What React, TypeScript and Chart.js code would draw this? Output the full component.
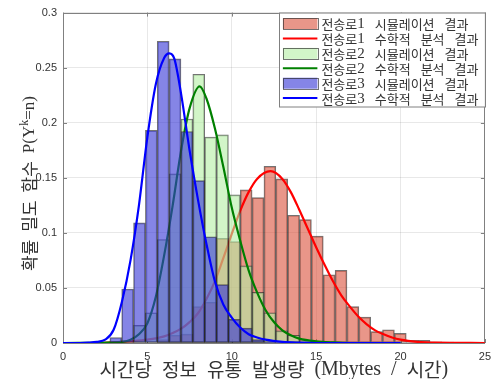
import React, { useEffect, useRef } from 'react';
import { Chart, registerables } from 'chart.js';

Chart.register(...registerables);

// ---------------- data ----------------
const binStart = 2.775;
const binWidth = 0.7026;

const route1Hist = [0, 0, 0, 0, 0.003, 0.007, 0.008, 0.033, 0.037, 0.095, 0.092, 0.139, 0.132, 0.1605, 0.149, 0.116, 0.112, 0.097, 0.062, 0.066, 0.033, 0.0235, 0.0103, 0.012, 0.0088, 0.0025, 0.0025, 0.001, 0.0008, 0];
const route2Hist = [0, 0.001, 0.016, 0.0275, 0.094, 0.1535, 0.2034, 0.244, 0.187, 0.189, 0.1345, 0.07, 0.046, 0.0275, 0.011, 0.007, 0.002, 0.001, 0, 0, 0, 0, 0, 0, 0, 0, 0, 0, 0, 0];
const route3Hist = [0.005, 0.049, 0.109, 0.193, 0.274, 0.258, 0.192, 0.1475, 0.0965, 0.053, 0.0215, 0.0135, 0.003, 0.001, 0, 0, 0, 0, 0, 0, 0, 0, 0, 0, 0, 0, 0, 0, 0, 0];

const route1CurveX = [0, 2, 3, 4, 5, 6, 6.5, 7, 7.5, 8, 8.5, 9, 9.5, 10, 10.5, 11, 11.5, 12.3, 13, 13.5, 14, 14.5, 15, 15.5, 16, 16.5, 17, 17.5, 18, 18.5, 19, 19.5, 20, 21, 22, 25];
const route1CurveY = [0, 0, 0.0005, 0.0015, 0.003, 0.006, 0.009, 0.013, 0.019, 0.027, 0.04, 0.056, 0.077, 0.099, 0.12, 0.137, 0.149, 0.156, 0.149, 0.137, 0.121, 0.104, 0.087, 0.071, 0.056, 0.043, 0.033, 0.024, 0.017, 0.0115, 0.008, 0.005, 0.003, 0.001, 0.0003, 0];

const route2CurveX = [0, 3, 3.5, 4, 4.5, 5, 5.5, 6, 6.5, 7, 7.5, 8.1, 8.5, 9, 9.5, 10, 10.5, 11, 11.5, 12, 12.5, 13, 13.5, 14, 15, 16, 17, 20];
const route2CurveY = [0, 0.0005, 0.001, 0.003, 0.008, 0.018, 0.042, 0.08, 0.125, 0.175, 0.213, 0.233, 0.222, 0.195, 0.16, 0.123, 0.093, 0.066, 0.046, 0.03, 0.019, 0.0115, 0.007, 0.004, 0.0015, 0.0005, 0, 0];

const route3CurveX = [0, 1, 1.5, 2, 2.5, 3, 3.5, 4, 4.5, 5, 5.5, 6, 6.3, 6.6, 7, 7.5, 8, 8.5, 9, 9.5, 10, 10.5, 11, 11.5, 12, 13, 14, 15, 20];
const route3CurveY = [0, 0, 0.0003, 0.001, 0.003, 0.012, 0.038, 0.075, 0.125, 0.187, 0.235, 0.259, 0.263, 0.258, 0.226, 0.175, 0.13, 0.09, 0.056, 0.035, 0.023, 0.014, 0.008, 0.005, 0.003, 0.001, 0.0003, 0, 0];

const legendLabels = [
  '전송로1 시뮬레이션 결과',
  '전송로1 수학적 분석 결과',
  '전송로2 시뮬레이션 결과',
  '전송로2 수학적 분석 결과',
  '전송로3 시뮬레이션 결과',
  '전송로3 수학적 분석 결과',
];

const xTicks = [0, 5, 10, 15, 20, 25];
const xTickLabels = ['0', '5', '10', '15', '20', '25'];
const yTicks = [0, 0.05, 0.1, 0.15, 0.2, 0.25, 0.3];
const yTickLabels = ['0', '0.05', '0.1', '0.15', '0.2', '0.25', '0.3'];

const xTitle = '시간당 정보 유통 발생량 (Mbytes / 시간)';
const yTitleMain = '확률 밀도 함수 P(Y';
const yTitleSup = 'k';
const yTitleEnd = '=n)';

// ---------------- styles ----------------
const histFills = ['rgba(218,80,58,0.6)', 'rgba(180,238,163,0.6)', 'rgba(52,52,213,0.6)'];
const histEdge = 'rgba(40,40,40,0.65)';
const lineColors = ['#ff0000', '#008000', '#0000ff'];
const axisColor = '#808080';
const textColor = '#333333';
const CJK = '"Noto Sans CJK KR", sans-serif';
const SERIF = '"Liberation Serif", serif';

type Spec = { hangul: string; latin: string; space: number; dy?: number };
const xTitleSpec: Spec = { hangul: `19px ${CJK}`, latin: `20px ${SERIF}`, space: 10 };
const yTitleSpec: Spec = { hangul: `17px ${CJK}`, latin: `17px ${SERIF}`, space: 8 };
const ySupSpec: Spec = { hangul: `12px ${CJK}`, latin: `12px ${SERIF}`, space: 4, dy: -5 };
const legendSpec: Spec = { hangul: `13px ${CJK}`, latin: `15px ${SERIF}`, space: 10 };

function histData(values: number[]) {
  return values.map((v, i) => ({ x: binStart + binWidth * (i + 0.5), y: v > 0 ? v : null }));
}
function curveData(xs: number[], ys: number[]) {
  return xs.map((x, i) => ({ x, y: ys[i] }));
}

const isHangul = (ch: string) => /[\u1100-\u11FF\u3130-\u318F\uAC00-\uD7AF]/.test(ch);

type Item = { ch: string; font: string; w: number; dy: number };
function layoutRich(ctx: CanvasRenderingContext2D, parts: { text: string; spec: Spec }[]): Item[] {
  const items: Item[] = [];
  for (const p of parts) {
    for (const ch of p.text) {
      if (ch === ' ') {
        items.push({ ch, font: p.spec.latin, w: p.spec.space, dy: 0 });
        continue;
      }
      const font = isHangul(ch) ? p.spec.hangul : p.spec.latin;
      ctx.font = font;
      items.push({ ch, font, w: ctx.measureText(ch).width, dy: p.spec.dy || 0 });
    }
  }
  return items;
}
function drawRich(ctx: CanvasRenderingContext2D, parts: { text: string; spec: Spec }[], x: number, y: number, align: 'left' | 'center') {
  const items = layoutRich(ctx, parts);
  const total = items.reduce((s, it) => s + it.w, 0);
  let cx = align === 'center' ? x - total / 2 : x;
  ctx.textAlign = 'left';
  ctx.textBaseline = 'middle';
  for (const it of items) {
    if (it.ch !== ' ') {
      ctx.font = it.font;
      ctx.fillText(it.ch, cx, y + it.dy);
    }
    cx += it.w;
  }
}

const framePlugin = {
  id: 'frame',
  beforeDatasetsDraw(chart: any) {
    const { ctx, chartArea } = chart;
    const { left, right, top, bottom } = chartArea;
    const xs = chart.scales.x;
    const ys = chart.scales.y;
    ctx.save();
    ctx.strokeStyle = axisColor;
    ctx.lineWidth = 1;
    ctx.strokeRect(Math.round(left) + 0.5, Math.round(top) + 0.5, Math.round(right - left) - 1, Math.round(bottom - top));
    const tl = 4;
    ctx.beginPath();
    for (const v of xTicks) {
      const px = Math.round(xs.getPixelForValue(v)) + 0.5;
      ctx.moveTo(px, bottom);
      ctx.lineTo(px, bottom - tl);
      ctx.moveTo(px, top);
      ctx.lineTo(px, top + tl);
    }
    for (const v of yTicks) {
      const py = Math.round(ys.getPixelForValue(v)) + 0.5;
      ctx.moveTo(left, py);
      ctx.lineTo(left + tl, py);
      ctx.moveTo(right, py);
      ctx.lineTo(right - tl, py);
    }
    ctx.stroke();
    ctx.restore();
  },
};

const titlePlugin = {
  id: 'titles',
  afterDraw(chart: any) {
    const { ctx, chartArea } = chart;
    ctx.save();
    ctx.fillStyle = textColor;
    const cx = (chartArea.left + chartArea.right) / 2;
    drawRich(ctx, [{ text: xTitle, spec: xTitleSpec }], cx, 369.5, 'center');
    ctx.translate(30, 183.5);
    ctx.rotate(-Math.PI / 2);
    drawRich(
      ctx,
      [
        { text: yTitleMain, spec: yTitleSpec },
        { text: yTitleSup, spec: ySupSpec },
        { text: yTitleEnd, spec: yTitleSpec },
      ],
      0,
      0,
      'center'
    );
    ctx.restore();
  },
};

const legendPlugin = {
  id: 'customLegend',
  afterDraw(chart: any) {
    const { ctx, chartArea } = chart;
    const w = 206;
    const h = 94;
    const x1 = chartArea.right;
    const x0 = x1 - w;
    const y0 = chartArea.top + 0.5;
    ctx.save();
    ctx.fillStyle = '#ffffff';
    ctx.fillRect(x0, y0, w, h);
    ctx.strokeStyle = axisColor;
    ctx.lineWidth = 1;
    ctx.strokeRect(Math.round(x0) + 0.5, Math.round(y0), w, h);
    const rowStart = y0 + 10.5;
    const rowStep = 14.9;
    const sx0 = x0 + 4;
    const sx1 = x0 + 38.5;
    for (let i = 0; i < legendLabels.length; i++) {
      const cy = rowStart + i * rowStep;
      const series = Math.floor(i / 2);
      if (i % 2 === 0) {
        ctx.fillStyle = histFills[series];
        ctx.fillRect(sx0, cy - 5.5, sx1 - sx0, 11);
        ctx.strokeStyle = histEdge;
        ctx.lineWidth = 1;
        ctx.strokeRect(Math.round(sx0) + 0.5, Math.round(cy - 5.5) + 0.5, Math.round(sx1 - sx0), 11);
      } else {
        ctx.strokeStyle = lineColors[series];
        ctx.lineWidth = 2;
        ctx.beginPath();
        ctx.moveTo(sx0, cy);
        ctx.lineTo(sx1, cy);
        ctx.stroke();
      }
      ctx.fillStyle = textColor;
      drawRich(ctx, [{ text: legendLabels[i], spec: legendSpec }], x0 + 42.5, cy + 0.5, 'left');
    }
    ctx.restore();
  },
};

export default function App() {
  const canvasRef = useRef<HTMLCanvasElement | null>(null);

  useEffect(() => {
    document.body.style.margin = '0';
    const canvas = canvasRef.current;
    if (!canvas) return;

    const barCommon = {
      type: 'bar' as const,
      borderColor: histEdge,
      borderWidth: 1,
      borderSkipped: false,
      grouped: false,
      barPercentage: 1,
      categoryPercentage: 1,
    };
    const lineCommon = {
      type: 'line' as const,
      borderWidth: 2.2,
      pointRadius: 0,
      fill: false,
      cubicInterpolationMode: 'monotone' as const,
    };

    const chart = new Chart(canvas, {
      type: 'bar',
      data: {
        datasets: [
          { ...barCommon, label: legendLabels[0], data: histData(route1Hist), backgroundColor: histFills[0], order: 5 },
          { ...lineCommon, label: legendLabels[1], data: curveData(route1CurveX, route1CurveY), borderColor: lineColors[0], order: 4 },
          { ...barCommon, label: legendLabels[2], data: histData(route2Hist), backgroundColor: histFills[1], order: 3 },
          { ...lineCommon, label: legendLabels[3], data: curveData(route2CurveX, route2CurveY), borderColor: lineColors[1], order: 2 },
          { ...barCommon, label: legendLabels[4], data: histData(route3Hist), backgroundColor: histFills[2], order: 1 },
          { ...lineCommon, label: legendLabels[5], data: curveData(route3CurveX, route3CurveY), borderColor: lineColors[2], order: 0 },
        ] as any,
      },
      options: {
        responsive: false,
        animation: false,
        devicePixelRatio: 1,
        layout: { padding: { top: 12, right: 8, left: 0, bottom: 0 } },
        plugins: { legend: { display: false }, tooltip: { enabled: false } },
        scales: {
          x: {
            type: 'linear',
            min: 0,
            max: 25,
            offset: false,
            afterBuildTicks: (s: any) => {
              s.ticks = xTicks.map((v) => ({ value: v }));
            },
            afterFit: (s: any) => {
              s.height = 36;
            },
            grid: { color: 'rgba(0,0,0,0.09)', drawTicks: false, offset: false },
            border: { display: false },
            ticks: {
              padding: 7,
              color: textColor,
              font: { family: '"Liberation Sans", Arial, sans-serif', size: 11 },
              maxRotation: 0,
              callback: (_v: any, i: number) => xTickLabels[i],
            },
          },
          y: {
            type: 'linear',
            min: 0,
            max: 0.3,
            afterBuildTicks: (s: any) => {
              s.ticks = yTicks.map((v) => ({ value: v }));
            },
            afterFit: (s: any) => {
              s.width = 63;
            },
            grid: { color: 'rgba(0,0,0,0.09)', drawTicks: false },
            border: { display: false },
            ticks: {
              padding: 6,
              color: textColor,
              font: { family: '"Liberation Sans", Arial, sans-serif', size: 11 },
              callback: (_v: any, i: number) => yTickLabels[i],
            },
          },
        },
      } as any,
      plugins: [framePlugin, titlePlugin, legendPlugin],
    });

    return () => {
      chart.destroy();
    };
  }, []);

  return (
    <div style={{ width: 498, height: 379 }}>
      <canvas ref={canvasRef} width={498} height={379} style={{ display: 'block' }} />
    </div>
  );
}
